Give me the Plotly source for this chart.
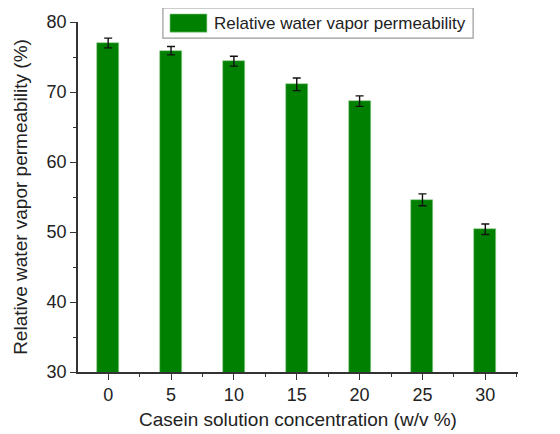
import plotly.graph_objects as go

concentration = [0, 5, 10, 15, 20, 25, 30]
permeability = [77.0, 75.9, 74.4, 71.1, 68.7, 54.6, 50.4]
permeability_err = [0.7, 0.6, 0.7, 0.9, 0.75, 0.85, 0.75]
x_ticks = [0, 5, 10, 15, 20, 25, 30]
y_ticks = [30, 40, 50, 60, 70, 80]
legend_label = "Relative water vapor permeability"

FONT = "Liberation Sans, Arial, sans-serif"
AXIS_COLOR = "#333333"
BAR_COLOR = "#008000"

fig = go.Figure()
fig.add_trace(go.Bar(
    x=concentration,
    y=permeability,
    width=1.75,
    marker=dict(color=BAR_COLOR, line=dict(color="#8fd08f", width=0.6)),
    error_y=dict(type="data", array=permeability_err, color="#111111",
                 thickness=1.4, width=4),
    name=legend_label,
    showlegend=False,
))

axis_common = dict(
    showline=True,
    linecolor=AXIS_COLOR,
    linewidth=1.5,
    ticks="outside",
    ticklen=6,
    tickwidth=1.3,
    tickcolor=AXIS_COLOR,
    showgrid=False,
    zeroline=False,
    automargin=False,
    tickfont=dict(family=FONT, size=18, color="#222222"),
    title_font=dict(family=FONT, size=19, color="#222222"),
)

fig.update_xaxes(
    **axis_common,
    range=[-2.4, 32.6],
    tickvals=x_ticks,
    minor=dict(ticks="outside", ticklen=3, tickwidth=1.2, tickcolor=AXIS_COLOR,
               tickvals=[t + 2.5 for t in x_ticks[:-1]] + [32.5]),
    title_text="Casein solution concentration (w/v %)",
    title_standoff=8,
)
fig.update_yaxes(
    **axis_common,
    range=[30, 80],
    tickvals=y_ticks,
    minor=dict(ticks="outside", ticklen=3, tickwidth=1.2, tickcolor=AXIS_COLOR,
               tickvals=[t + 5 for t in y_ticks[:-1]]),
    title_text="Relative water vapor permeability (%)",
    title_standoff=14,
)

# legend box drawn by hand so the swatch matches the original's wide patch
fig.add_shape(type="rect", xref="paper", yref="paper",
              x0=0.193, x1=0.898, y0=0.954, y1=1.04,
              line=dict(color="#999999", width=1.2), fillcolor="white")
fig.add_shape(type="rect", xref="paper", yref="paper",
              x0=0.209, x1=0.293, y0=0.971, y1=1.023,
              line=dict(color="#8fd08f", width=0.6), fillcolor=BAR_COLOR)
fig.add_annotation(xref="paper", yref="paper", x=0.305, y=0.997,
                   xanchor="left", yanchor="middle", showarrow=False,
                   text=legend_label,
                   font=dict(family=FONT, size=17, color="#222222"))

# page body adds an 8px margin, so the figure is 8px smaller each way
fig.update_layout(
    width=552,
    height=426,
    paper_bgcolor="white",
    plot_bgcolor="white",
    margin=dict(l=70, r=42, t=14, b=62),
    font=dict(family=FONT),
    bargap=0,
)

fig.write_html("out.html")
